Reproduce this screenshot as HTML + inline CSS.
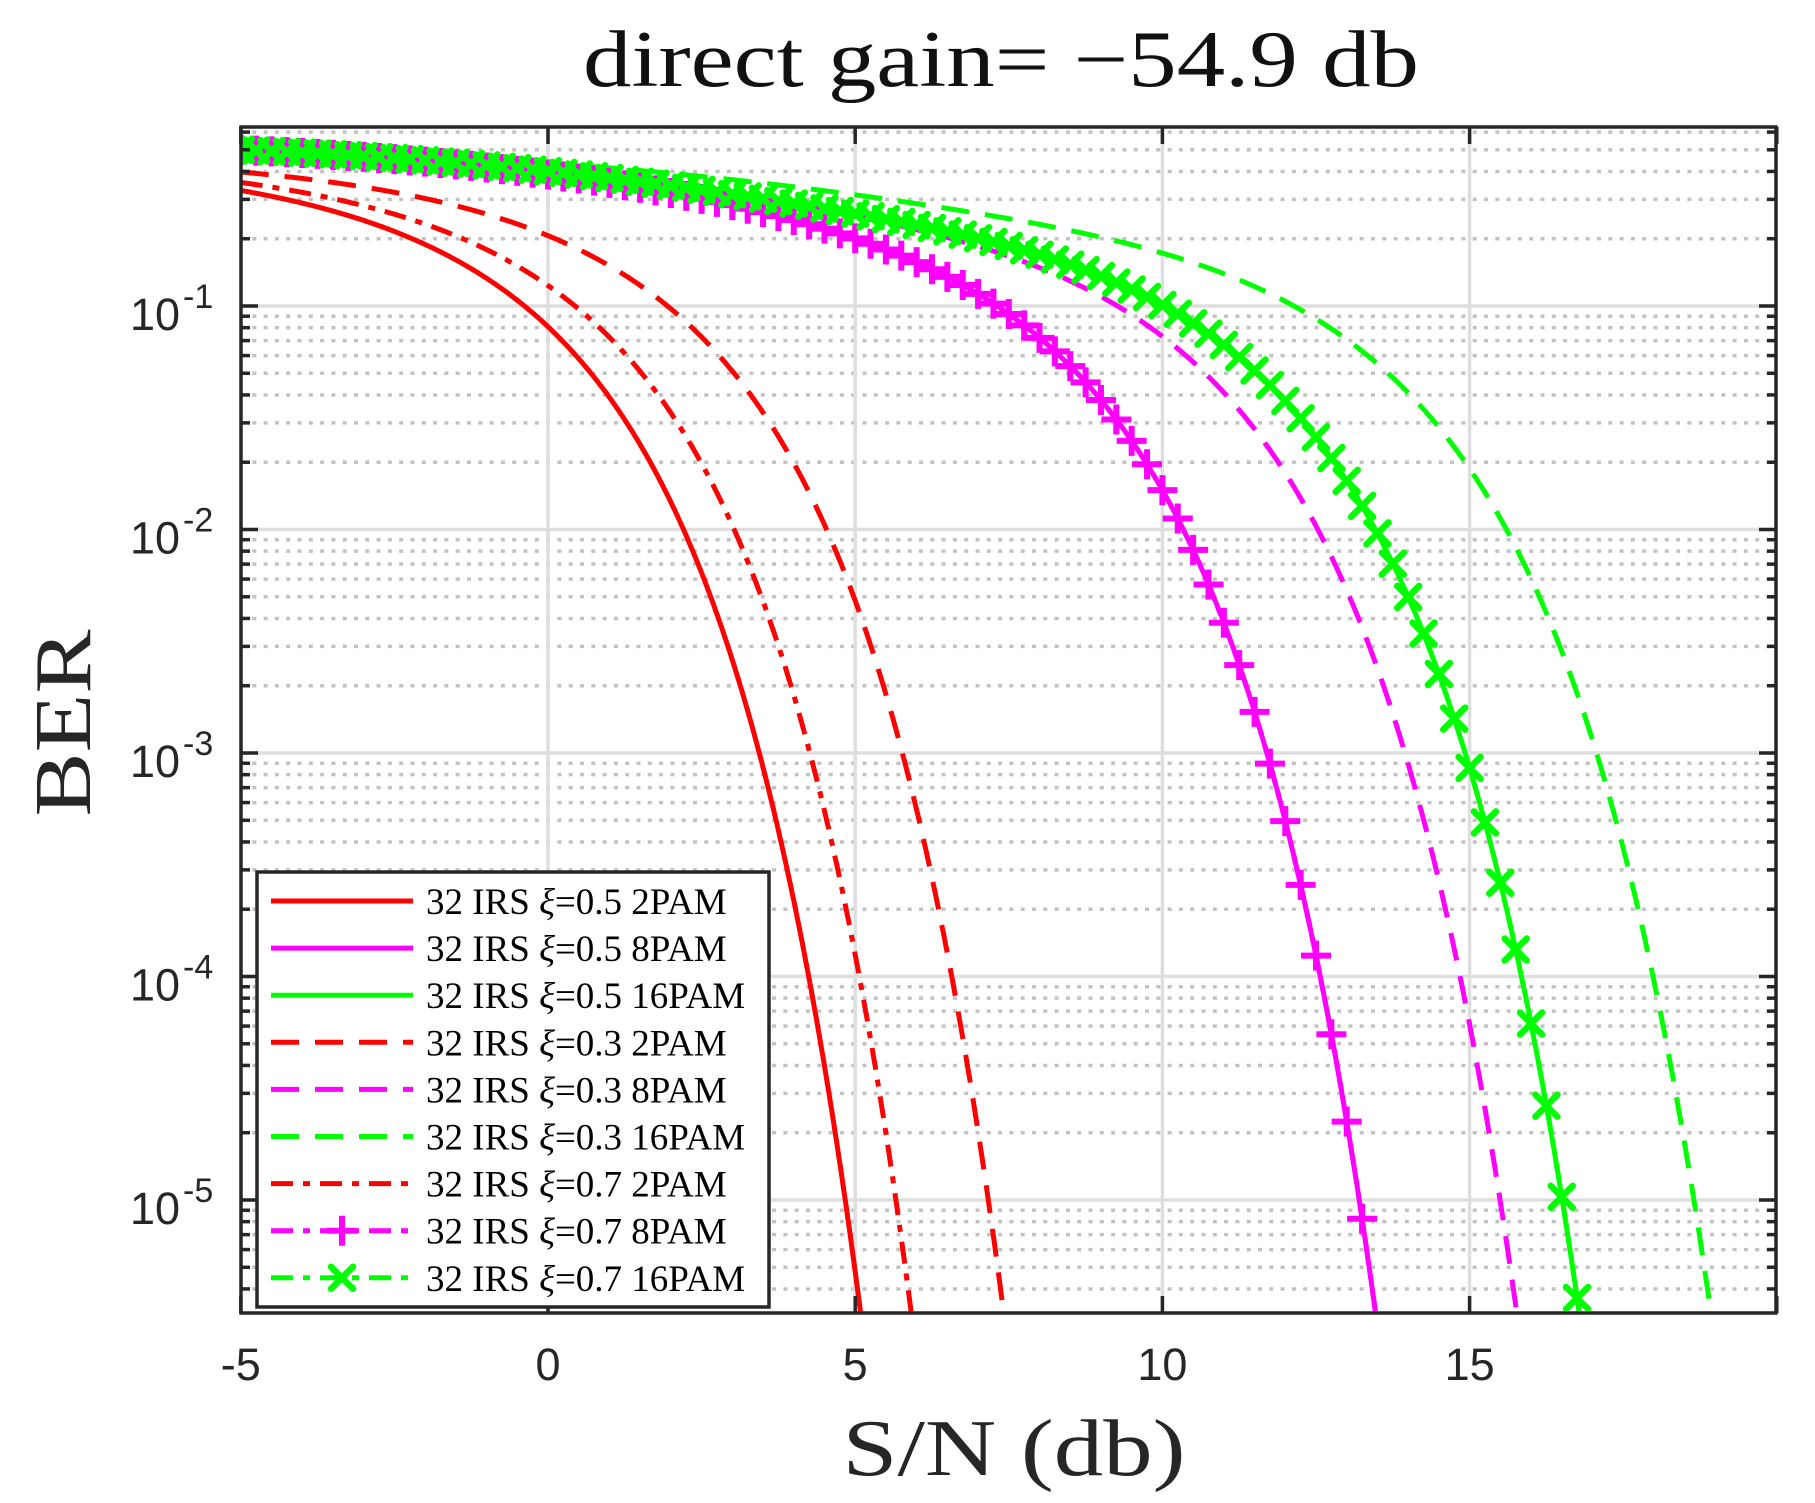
<!DOCTYPE html>
<html><head><meta charset="utf-8">
<style>
html,body{margin:0;padding:0;background:#fff;width:1815px;height:1503px;overflow:hidden;}
svg{display:block;}
</style></head>
<body>
<svg id="s" xmlns="http://www.w3.org/2000/svg" width="1815" height="1503" viewBox="0 0 1815 1503">
<rect width="1815" height="1503" fill="#fff"/>
<defs><clipPath id="ax"><rect x="241" y="127" width="1535" height="1186"/></clipPath></defs>
<g id="grid"></g>
<g id="series" clip-path="url(#ax)"></g>
<g id="axes"></g>
<text x="1001" y="86" font-family="Liberation Serif, serif" font-size="80" text-anchor="middle" textLength="836" lengthAdjust="spacingAndGlyphs" fill="#111">direct gain= −54.9 db</text>
<text x="1014" y="1475" font-family="Liberation Serif, serif" font-size="80" text-anchor="middle" textLength="343" lengthAdjust="spacingAndGlyphs" fill="#262626">S/N (db)</text>
<text transform="translate(90,723) rotate(-90)" font-family="Liberation Serif, serif" font-size="80" text-anchor="middle" textLength="187" lengthAdjust="spacingAndGlyphs" fill="#262626">BER</text>
<g id="legend"></g>
</svg>
<script>
var NS="http://www.w3.org/2000/svg";
function el(p,t,a,txt){var e=document.createElementNS(NS,t);for(var k in a)e.setAttribute(k,a[k]);if(txt!==undefined)e.textContent=txt;p.appendChild(e);return e;}
var L=241,R=1776,T=127,B=1313;
function X(x){return 548+x*61.44;}
function Y(v){return 306+(-1-Math.log10(v))*223.5;}
var grid=document.getElementById('grid'),axes=document.getElementById('axes'),ser=document.getElementById('series'),leg=document.getElementById('legend');
for(var d=-6;d<=0;d++){for(var m=1;m<=9;m++){var v=m*Math.pow(10,d);var y=Y(v);if(y<T+1||y>B-1)continue;
 if(m==1){el(grid,'line',{x1:L,x2:R,y1:y,y2:y,stroke:'#dedede','stroke-width':3.5});
  el(axes,'line',{x1:L,x2:L+17,y1:y,y2:y,stroke:'#262626','stroke-width':3.5});
  el(axes,'line',{x1:R-17,x2:R,y1:y,y2:y,stroke:'#262626','stroke-width':3.5});
  el(axes,'text',{x:180,y:y+24,'font-family':'Liberation Sans, sans-serif','font-size':45,'text-anchor':'end',fill:'#262626'},'10');
  el(axes,'text',{x:183,y:y+2,'font-family':'Liberation Sans, sans-serif','font-size':34,fill:'#262626'},'-'+(-d));
 } else {el(grid,'line',{x1:L,x2:R,y1:y,y2:y,stroke:'#c2c2c2','stroke-width':3.5,'stroke-dasharray':'4 7.3'});
  el(axes,'line',{x1:L,x2:L+9,y1:y,y2:y,stroke:'#262626','stroke-width':3.5});
  el(axes,'line',{x1:R-9,x2:R,y1:y,y2:y,stroke:'#262626','stroke-width':3.5});}
}}
for(var x=-5;x<=20;x+=5){var xx=X(x);
 if(x>-5&&x<20){el(grid,'line',{x1:xx,x2:xx,y1:T,y2:B,stroke:'#dedede','stroke-width':3.5});}
 el(axes,'line',{x1:xx,x2:xx,y1:B-17,y2:B,stroke:'#262626','stroke-width':3.5});
 el(axes,'line',{x1:xx,x2:xx,y1:T,y2:T+17,stroke:'#262626','stroke-width':3.5});
 if(x<20)el(axes,'text',{x:xx,y:1380,'font-family':'Liberation Sans, sans-serif','font-size':45,'text-anchor':'middle',fill:'#262626'},String(x));
}
el(axes,'rect',{x:L,y:T,width:R-L,height:B-T,fill:'none',stroke:'#262626','stroke-width':3.5});
function erfc(x){var z=Math.abs(x),t=1/(1+0.5*z);var r=t*Math.exp(-z*z-1.26551223+t*(1.00002368+t*(0.37409196+t*(0.09678418+t*(-0.18628806+t*(0.27886807+t*(-1.13520398+t*(1.48851587+t*(-0.82215223+t*0.17087277)))))))));return x>=0?r:2-r;}
function Q(z){return 0.5*erfc(z/Math.SQRT2);}
function red(c){return function(x){return Q(c*Math.pow(10,x/10));};}
function hi(b,a0,a1,k){return function(x){var s=Math.pow(10,x/10);var a=a0-a1*Math.exp(-k*(s-0.316));return Q(b*s+a);};}
var fR5=red(1.40),fR3=red(0.819),fR7=red(1.158);
var fM=hi(0.192,0.25,0.31,1.0),fM3=hi(0.1105,0.348,0.38,0.9);
var fG=hi(0.086,0.416,0.443,0.83),fG3=hi(0.0524,0.424,0.44,0.5);
function path(f){var d='';for(var x=-5;x<=20.001;x+=0.02){var v=f(x);if(v<1e-7)v=1e-7;d+=(d?'L':'M')+X(x).toFixed(1)+','+Y(v).toFixed(1);}return d;}
var RED='#ff0000',MAG='#ff00ff',GRN='#00ff00';
var DASH='28 16',DD='22 10 7 10';
var list=[[fR5,RED,null],[fM,MAG,null],[fG,GRN,null],[fR3,RED,DASH],[fM3,MAG,DASH],[fG3,GRN,DASH],[fR7,RED,DD],[fM,MAG,DD,'+'],[fG,GRN,DD,'x']];
function marker(p,t,cx,cy,col){if(t=='+'){el(p,'path',{d:'M'+(cx-15)+','+cy+'h30M'+cx+','+(cy-15)+'v30',stroke:col,'stroke-width':6,fill:'none'});}
 else{el(p,'path',{d:'M'+(cx-11)+','+(cy-11)+'l22,22M'+(cx-11)+','+(cy+11)+'l22,-22',stroke:col,'stroke-width':6.5,fill:'none','stroke-linecap':'round'});}}
list.forEach(function(s){var a={d:path(s[0]),stroke:s[1],'stroke-width':5,fill:'none','stroke-linejoin':'round'};if(s[2])a['stroke-dasharray']=s[2];el(ser,'path',a);
 if(s[3]){for(var x=-5;x<=20.001;x+=0.25){var v=s[0](x);var y=Y(v);if(y>B+20)break;marker(ser,s[3],X(x),y,s[1]);}}});
el(leg,'rect',{x:257,y:872,width:512,height:435,fill:'#fff',stroke:'#262626','stroke-width':3.5});
var labels=['0.5 2PAM','0.5 8PAM','0.5 16PAM','0.3 2PAM','0.3 8PAM','0.3 16PAM','0.7 2PAM','0.7 8PAM','0.7 16PAM'];
list.forEach(function(s,i){var y=901+i*47.1;var a={x1:271,x2:413,y1:y,y2:y,stroke:s[1],'stroke-width':5};if(s[2])a['stroke-dasharray']=s[2];el(leg,'line',a);
 if(s[3])marker(leg,s[3],342,y,s[1]);
 var t=el(leg,'text',{x:426,y:y+13,'font-family':'Liberation Serif, serif','font-size':37,fill:'#000'});
 t.appendChild(document.createTextNode('32 IRS '));el(t,'tspan',{'font-style':'italic'},'ξ');t.appendChild(document.createTextNode('='+labels[i]));});
</script>
</body></html>
